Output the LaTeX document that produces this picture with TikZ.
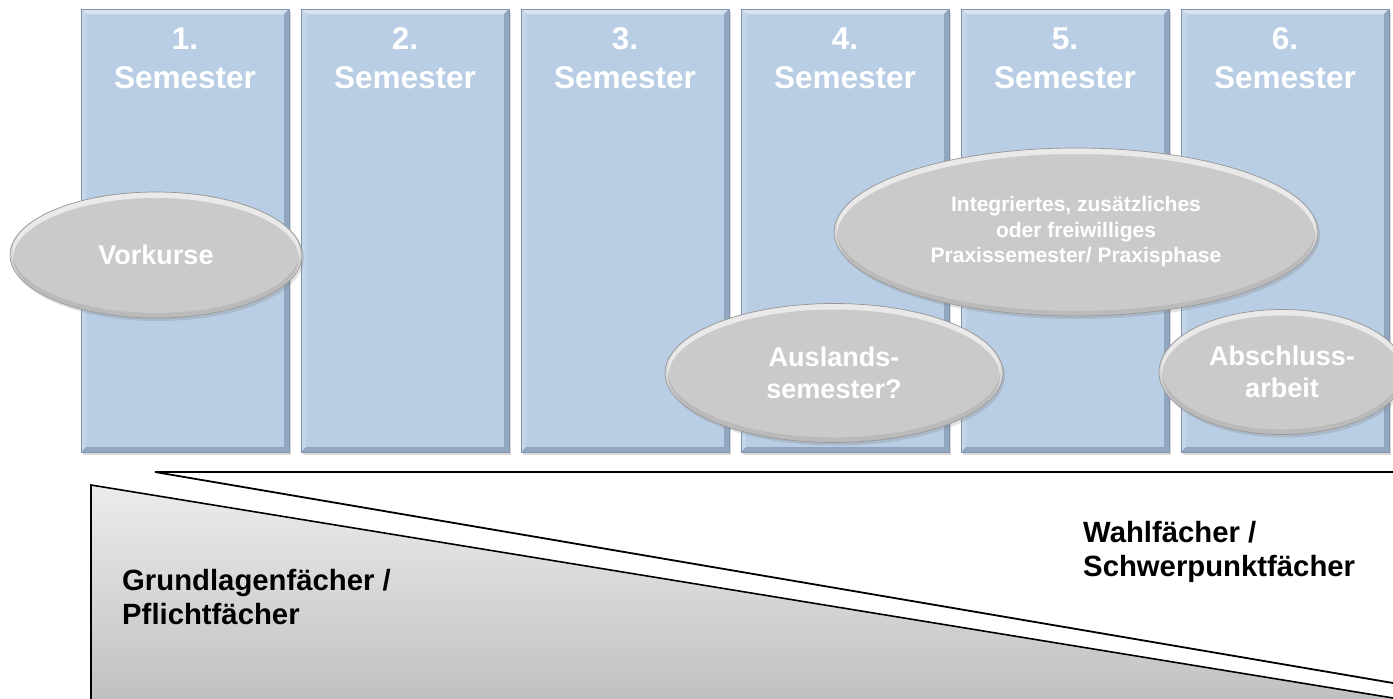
\documentclass[tikz,border=0pt]{standalone}
\usepackage{fontspec}
\setmainfont{Liberation Sans}
\usetikzlibrary{positioning,calc,shapes.geometric,shadows}

\definecolor{semfill}{RGB}{185,205,228}
\definecolor{semtop}{RGB}{214,226,240}
\definecolor{semside}{RGB}{198,214,233}
\definecolor{semdark}{RGB}{146,166,193}
\definecolor{semedge}{RGB}{128,148,176}
\definecolor{ovalfill}{RGB}{202,202,202}
\definecolor{ovaledge}{RGB}{150,150,150}
\definecolor{wedgetop}{RGB}{236,236,236}
\definecolor{wedgebot}{RGB}{190,190,190}

\begin{document}
\begin{tikzpicture}[x=1pt,y=1pt]
    \tikzstyle{column}=[rectangle,inner sep=0,minimum width=208,minimum height=443,
        fill=semfill,draw=semedge,line width=0.6,
        drop shadow={shadow xshift=2,shadow yshift=-3,opacity=0.3},
        path picture={
            \coordinate (nw) at (path picture bounding box.north west);
            \coordinate (ne) at (path picture bounding box.north east);
            \coordinate (sw) at (path picture bounding box.south west);
            \coordinate (se) at (path picture bounding box.south east);
            \fill[semtop] (nw) -- (ne) -- ([shift={(-5,-5)}]ne) -- ([shift={(5,-5)}]nw) -- cycle;
            \fill[semside] (nw) -- ([shift={(5,-5)}]nw) -- ([shift={(5,5)}]sw) -- (sw) -- cycle;
            \fill[semdark] (ne) -- (se) -- ([shift={(-5,5)}]se) -- ([shift={(-5,-5)}]ne) -- cycle;
            \fill[semdark] (sw) -- (se) -- ([shift={(-5,5)}]se) -- ([shift={(5,5)}]sw) -- cycle;
        }]
    \tikzstyle{semlabel}=[inner sep=0,text=white,align=center,font=\bfseries\fontsize{31.5}{39}\selectfont]
    \tikzstyle{oval}=[ellipse,inner sep=0,fill=ovalfill,draw=ovaledge,line width=0.7,
        text=white,align=center,font=\bfseries\fontsize{27}{32}\selectfont,
        drop shadow={shadow xshift=2,shadow yshift=-3,opacity=0.25},
        path picture={
            \draw[white,line width=6,opacity=0.6] let \p1=(path picture bounding box.north east),
                \p2=(path picture bounding box.center) in
                ([yshift=-3pt]\p2) ellipse ({\x1-\x2} and {\y1-\y2});
            \draw[black,line width=5,opacity=0.08] let \p1=(path picture bounding box.north east),
                \p2=(path picture bounding box.center) in
                ([yshift=2.5pt]\p2) ellipse ({\x1-\x2} and {\y1-\y2});
        }]
    \tikzstyle{subject}=[inner sep=0,anchor=north west,align=left,font=\bfseries\fontsize{29.3}{34}\selectfont]

    \useasboundingbox (0,0) rectangle (1393,-699);
    \clip (0,0) rectangle (1393,-699);

    % semester columns
    \foreach \i in {1,...,6} {
        \node[column] (sem\i) at ({185+220*(\i-1)},-230.5) {};
        \node[semlabel,below=19 of sem\i.north] (lab\i) {\i.\\Semester};
    }

    % ovals on top of the columns
    \node[oval,minimum width=292,minimum height=126] (vorkurse) at (156,-255) {Vorkurse};
    \node[oval,minimum width=484,minimum height=168,font=\bfseries\fontsize{21}{25.5}\selectfont]
        (praxis) at (1076,-232) {Integriertes, zusätzliches\\oder freiwilliges\\Praxissemester/ Praxisphase};
    \node[oval,minimum width=338,minimum height=139] (ausland) at (834,-373) {Auslands-\\semester?};
    \node[oval,minimum width=246,minimum height=125] (abschluss) at (1282,-372) {Abschluss-\\arbeit};

    % wedges below
    \draw[line width=1.8,fill=white] (155,-472) -- (1420,-472) -- (1420,-687.6) -- cycle;
    \draw[line width=1.6,top color=wedgetop,bottom color=wedgebot]
        (91,-485) -- (1420,-702.4) -- (1420,-712) -- (91,-712) -- cycle;

    \node[subject] (pflicht) at (122,-569) {Grundlagenfächer /\\Pflichtfächer};
    \node[subject] (wahl) at (1083,-521) {Wahlfächer /\\Schwerpunktfächer};
\end{tikzpicture}
\end{document}
